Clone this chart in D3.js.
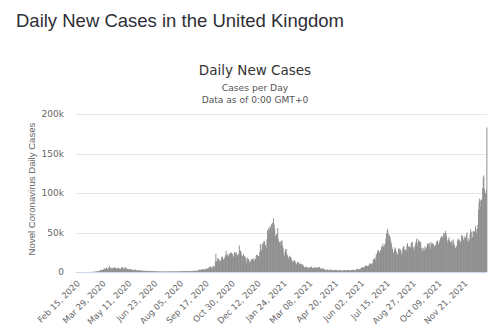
<!DOCTYPE html>
<html><head><meta charset="utf-8">
<script src="https://cdn.jsdelivr.net/npm/d3@7"></script>
<style>
html,body{margin:0;padding:0;background:#fff;}
svg{display:block;}
</style></head>
<body><svg id="c" width="500" height="333"></svg>
<script>
// ---- DATA (daily new cases, UK, starting Feb 15, 2020) ----
const startDate = "2020-02-15";
const feb2020 = [0,0,0,0,0,0,0,0,4,0,0,0,2,3,5];
const mar2020 = [13,4,12,34,29,48,43,67,48,52,83,134,117,433,251,152,407,676,643,714,1035,665,967,1427,1452,2129,2885,2546,2433,2619,3009];
const apr2020 = [4324,4244,4450,3735,5903,3802,3634,5491,4344,7800,5233,5288,4342,5252,4603,4617,5599,5525,5850,4676,4301,4451,4583,5386,4913,4463,4309,3996,4076,6032];
const may2020 = [4806,6201,4339,3985,4406,6111,5614,4649,3896,3923,3877,3403,3242,3446,3560,3451,3142,2684,2412,2472,2615,3287,2959,2405,1625,2004,2013,2095,2445,1936,1570];
const jun2020 = [1653,1871,1805,1650,1557,1326,1205,1741,1003,1266,1541,1425,1514,1056,1514,1279,1115,1218,1346,1295,1221,958,874,653,1118,1006,890,901,815,689];
const jul2020 = [829,576,544,624,516,352,581,630,612,642,820,650,530,538,726,642,688,827,796,580,445,560,769,798,767,747,685,581,763,846,880];
const aug2020 = [771,744,938,670,892,950,871,758,1062,1002,1148,1009,1441,1062,1012,1040,713,1089,812,1182,1033,1288,1041,853,1184,1048,1522,1276,1108,1715,1406];
const sep2020 = [1295,1508,1735,1813,1813,2988,2948,2460,2659,2919,3539,3497,3330,2621,3105,3991,3395,4322,4422,3899,4368,4926,6178,6634,6874,6042,5693,4044,7143,7108];
const oct2020 = [6914,6968,12872,22961,12594,14542,17540,17234,13864,15166,12872,13972,17234,19724,18980,15650,16171,16982,18804,21331,26688,21242,20530,23012,19790,20890,22885,24701,23065,24405,21915];
const nov2020 = [23254,18950,20018,25177,24141,23287,24957,20572,21350,20412,22950,33470,27301,26860,24962,21363,20051,19609,22915,20252,19875,18662,15450,11299,18213,17555,16022,15871,12155,12330];
const dec2020 = [13430,16170,14879,16298,15539,17272,14718,12282,16578,20964,21672,21502,18447,20263,18450,25161,35383,28507,27052,35928,33364,36804,39237,39036,32725,34693,30501,41385,53135,50023,55892];
const jan2021 = [53285,57725,54990,58784,60916,62322,52618,68053,59937,54940,46165,45533,47525,48682,55761,41346,38598,37535,33355,38905,37892,40261,33552,30004,22195,20089,25308,28680,29079,23275,21088];
const feb2021 = [18607,16840,19202,20634,19114,18262,15845,14104,12364,13494,13013,15144,13308,10972,9765,10625,12718,12057,12027,10406,9834,10641,8489,9938,9985,8523,7434,6035];
const mar2021 = [5455,6391,5766,6573,6040,5177,5177,4712,5766,5926,6609,6753,5534,4618,5089,5294,5758,6303,4802,5587,5312,5342,5379,6397,6187,6187,3862,3862,4654,4052,4052];
const apr2021 = [4479,3402,3423,2297,2762,2379,2963,3150,2729,1730,1730,3568,2472,2491,2672,2596,2206,1882,2524,2396,2729,2174,2678,1712,1946,2064,2685,2166,2381,2040];
const may2021 = [1907,1671,1649,2613,2357,2490,2047,1770,1979,2357,2284,2657,2193,2027,1926,1979,2212,2412,2696,2874,2829,2235,1979,2439,2493,3180,3542,4182,3240,3398,3383];
const jun2021 = [3165,4330,5274,6238,5765,5341,5683,6048,7540,8125,8125,7738,7490,7742,7673,9055,11007,10476,10321,9284,10633,11625,16135,16703,15810,18270,14876,22868,20479,26068];
const jul2021 = [27989,27125,24885,24248,27334,28773,32548,32551,35707,31772,31772,34471,36660,42302,48553,51870,54674,48161,39950,46558,44104,39906,36389,31795,29173,24950,23511,27734,31117,29622,26144];
const aug2021 = [24470,21952,21691,29312,30215,27429,28612,26750,21952,23510,29612,33074,31795,28643,26750,28435,26852,33904,36572,32058,32253,31914,31914,30838,35847,38046,37578,32181,29547,26476,32181];
const sep2021 = [35693,38154,42076,32406,37011,41192,37489,38975,38013,37622,29547,30825,26628,27173,30597,26911,32651,29612,29173,31564,36100,34460,35623,36710,32417,29547,37960,34526,36722,35077];
const oct2021 = [35577,30301,32617,33869,33869,38520,36687,40224,36001,35077,38520,40701,42776,45066,44932,43423,45140,49156,43738,49139,52009,49298,44985,39962,36567,40954,43941,39842,38009,37309,38009];
const nov2021 = [40077,33865,41299,37269,34029,30305,30693,32322,33117,39329,42408,40375,40941,36517,37681,39705,46807,46169,44242,40004,40941,44917,42484,43676,47240,50091,39567,37681,42583,39716];
const dec2021 = [48374,53945,50584,42848,43992,51459,51342,51342,50867,58194,54073,48854,54661,59610,78610,88376,93045,90418,82886,91743,90629,106122,119789,122186,105000,100000,98515,103000,183037];

const yTicks = [0, 50000, 100000, 150000, 200000];
const yTickLabels = ["0", "50k", "100k", "150k", "200k"];
const xTickLabels = ["Feb 15, 2020","Mar 29, 2020","May 11, 2020","Jun 23, 2020","Aug 05, 2020","Sep 17, 2020","Oct 30, 2020","Dec 12, 2020","Jan 24, 2021","Mar 08, 2021","Apr 20, 2021","Jun 02, 2021","Jul 15, 2021","Aug 27, 2021","Oct 09, 2021","Nov 21, 2021"];

// ---- build ----
const values = [].concat(feb2020,mar2020,apr2020,may2020,jun2020,jul2020,aug2020,sep2020,oct2020,nov2020,dec2020,
  jan2021,feb2021,mar2021,apr2021,may2021,jun2021,jul2021,aug2021,sep2021,oct2021,nov2021,dec2021);
const fmt = d3.timeFormat("%b %d, %Y");
const d0 = d3.timeParse("%Y-%m-%d")(startDate);
const data = values.map((v,i)=>({date: fmt(d3.timeDay.offset(d0,i)), v}));

const svg = d3.select("#c");
const L = 76, R = 487, T = 114, B = 272;

const x = d3.scaleBand().domain(data.map(d=>d.date)).range([L,R]).padding(0);
const y = d3.scaleLinear().domain([0,200000]).range([B,T]);

svg.append("text").attr("x",16).attr("y",27)
  .attr("font-family","'Liberation Sans', Arial, Helvetica, sans-serif")
  .attr("font-size",18.5).attr("fill","#2e2e36")
  .text("Daily New Cases in the United Kingdom");

const cx = 255;
svg.append("text").attr("x",cx).attr("y",75).attr("text-anchor","middle")
  .attr("font-family","'DejaVu Sans', Verdana, sans-serif").attr("font-size",13.5).attr("fill","#333")
  .text("Daily New Cases");
svg.append("text").attr("x",cx).attr("y",91).attr("text-anchor","middle")
  .attr("font-family","'DejaVu Sans', Verdana, sans-serif").attr("font-size",9.2).attr("fill","#555")
  .text("Cases per Day");
svg.append("text").attr("x",cx).attr("y",103).attr("text-anchor","middle")
  .attr("font-family","'DejaVu Sans', Verdana, sans-serif").attr("font-size",9.1).attr("fill","#555")
  .text("Data as of 0:00 GMT+0");

// gridlines + y labels
const yAxis = d3.axisLeft(y).tickValues(yTicks).tickSize(0).tickPadding(12)
  .tickFormat((d,i)=>yTickLabels[i]);
const gy = svg.append("g").attr("transform",`translate(${L},0)`).call(yAxis);
gy.select(".domain").remove();
gy.selectAll("text").attr("font-family","'DejaVu Sans', Verdana, sans-serif").attr("font-size",9).attr("fill","#666");
svg.append("g").selectAll("line").data(yTicks.slice(1)).join("line")
  .attr("x1",L).attr("x2",R).attr("y1",d=>Math.round(y(d))+0.5).attr("y2",d=>Math.round(y(d))+0.5)
  .attr("stroke","#e6e6e6").attr("stroke-width",1);

// bars
svg.append("g").selectAll("rect").data(data).join("rect")
  .attr("x",d=>x(d.date)).attr("width",x.bandwidth()+0.35)
  .attr("y",d=>y(d.v)).attr("height",d=>B-y(d.v))
  .attr("fill","#8c8c8c");

// x axis
svg.append("line").attr("x1",L).attr("x2",R).attr("y1",B+0.5).attr("y2",B+0.5).attr("stroke","#ccd6eb");
const tickDates = data.filter((d,i)=>i%43===0).map(d=>d.date);
const xAxis = d3.axisBottom(x).tickValues(tickDates).tickSize(0).tickPadding(0)
  .tickFormat((d,i)=>xTickLabels[i]);
const gx = svg.append("g").attr("transform",`translate(0,${B})`).call(xAxis);
gx.select(".domain").remove();
gx.selectAll("text")
  .attr("font-family","'DejaVu Sans', Verdana, sans-serif").attr("font-size",8.5).attr("fill","#666")
  .attr("text-anchor","end").attr("dy",0).attr("y",0)
  .attr("transform","translate(4,12) rotate(-45)");

// y title
svg.append("text").attr("transform","translate(35,189) rotate(-90)").attr("text-anchor","middle")
  .attr("font-family","'Liberation Sans', Arial, sans-serif").attr("font-size",9.6).attr("fill","#666")
  .text("Novel Coronavirus Daily Cases");
</script></body></html>
